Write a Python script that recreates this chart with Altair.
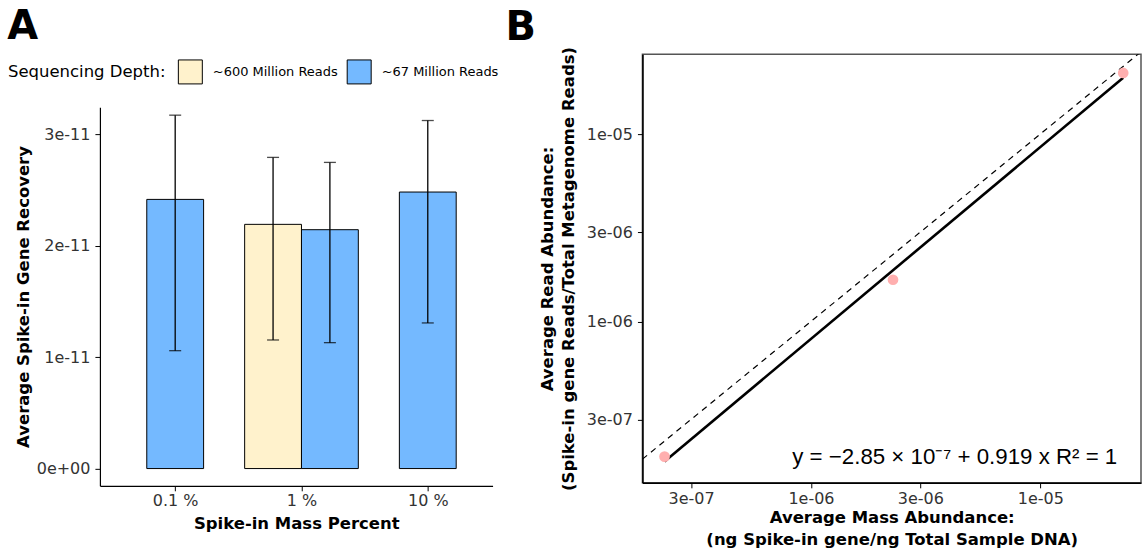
import json
import altair as alt
import numpy as np
import pandas as pd

# ---------------- Panel A data ----------------
pct_labels = ["0.1 %", "1 %", "10 %"]
bar_pct = ["0.1 %", "1 %", "1 %", "10 %"]
bar_depth = ["~67 Million Reads", "~600 Million Reads", "~67 Million Reads", "~67 Million Reads"]
bar_mean = [2.416e-11, 2.192e-11, 2.144e-11, 2.482e-11]
bar_hi = [3.172e-11, 2.793e-11, 2.748e-11, 3.124e-11]
bar_lo = [1.058e-11, 1.154e-11, 1.130e-11, 1.307e-11]
depth_order = ["~600 Million Reads", "~67 Million Reads"]
depth_colors = ["#FFF2CC", "#74B9FF"]

# ---------------- Panel B data ----------------
mass = [2.30e-7, 2.28e-6, 2.30e-5]
reads = [1.90e-7, 1.67e-6, 2.12e-5]
eq_label = "y = \u22122.85 \u00d7 10\u207b\u2077 + 0.919 x   R\u00b2 = 1"

FONT = "DejaVu Sans"

# ---- dodge (preserve single): total width 0.9 per category ----
dfa = pd.DataFrame(dict(pct=bar_pct, depth=bar_depth, mean=bar_mean, hi=bar_hi, lo=bar_lo))
dfa["idx"] = dfa["pct"].map({p: i + 1 for i, p in enumerate(pct_labels)})
dfa["dorder"] = dfa["depth"].map({d: i for i, d in enumerate(depth_order)})
dfa = dfa.sort_values(["idx", "dorder"]).reset_index(drop=True)
n_in = dfa.groupby("pct")["depth"].transform("count")
rank = dfa.groupby("pct").cumcount()
w = 0.9 / 2
dfa["center"] = dfa["idx"] + (rank - (n_in - 1) / 2) * w
dfa["x1"] = dfa["center"] - w / 2
dfa["x2"] = dfa["center"] + w / 2

label_expr_a = json.dumps(pct_labels) + "[datum.value - 1]"

# panel A view is as tall as panel B's; its y axis occupies the lower part only
A_H = 432
xscale_a = alt.Scale(domain=[0.404, 3.513], nice=False, zero=False)
yscale_a = alt.Scale(domain=[-0.155e-11, 3.244e-11], nice=False, zero=False, range=[A_H, 53])

axis_common = dict(
    grid=False, domainColor="black", domainWidth=1.2, tickColor="black", tickSize=5,
    labelColor="#333333", labelFont=FONT, labelFontSize=16, titleFont=FONT,
    titleFontSize=16.5, titleFontWeight="bold", titleColor="black",
)

base_a = alt.Chart(dfa)
bars = base_a.mark_bar(stroke="black", strokeWidth=1).encode(
    x=alt.X("x1:Q", scale=xscale_a,
            axis=alt.Axis(values=[1, 2, 3], labelExpr=label_expr_a,
                          title="Spike-in Mass Percent", titlePadding=7, **axis_common)),
    x2="x2:Q",
    y=alt.Y("mean:Q", scale=yscale_a,
            axis=alt.Axis(values=[0, 1e-11, 2e-11, 3e-11],
                          labelExpr="datum.value == 0 ? '0e+00' : format(datum.value, '.0e')",
                          title="Average Spike-in Gene Recovery", labelPadding=5, titlePadding=5,
                          **axis_common)),
    y2=alt.datum(0),
    color=alt.Color("depth:N", scale=alt.Scale(domain=depth_order, range=depth_colors),
                    legend=alt.Legend(title="Sequencing Depth:", orient="none", legendX=-92, legendY=5,
                                      direction="horizontal", titleOrient="left", symbolType="square",
                                      symbolSize=576, symbolStrokeColor="black", symbolStrokeWidth=1,
                                      symbolOpacity=1, labelFont=FONT, labelFontSize=13, labelColor="black",
                                      titleFont=FONT, titleFontSize=16.5, titleFontWeight="normal",
                                      titleColor="black", titlePadding=12, labelOffset=10,
                                      columnPadding=6)),
)
err = base_a.mark_rule(color="black", strokeWidth=1.3).encode(
    x=alt.X("center:Q", scale=xscale_a), y=alt.Y("lo:Q", scale=yscale_a), y2="hi:Q")
cap_hi = base_a.mark_tick(color="black", orient="horizontal", size=12, thickness=1.3).encode(
    x=alt.X("center:Q", scale=xscale_a), y=alt.Y("hi:Q", scale=yscale_a))
cap_lo = base_a.mark_tick(color="black", orient="horizontal", size=12, thickness=1.3).encode(
    x=alt.X("center:Q", scale=xscale_a), y=alt.Y("lo:Q", scale=yscale_a))

panel_a = alt.layer(bars, err, cap_hi, cap_lo).properties(
    width=393, height=A_H,
    title=alt.TitleParams("A", anchor="start", font=FONT, fontSize=40, fontWeight="bold",
                          color="black", offset=5, dx=-8, dy=-2),
    view=alt.ViewBackground(stroke=None),
)

# ---------------- Panel B ----------------
dfb = pd.DataFrame(dict(mass=mass, reads=reads))
slope, icpt = np.polyfit(np.log10(mass), np.log10(reads), 1)
xfit = np.array([min(mass), max(mass)])
dfit = pd.DataFrame(dict(mass=xfit, reads=10 ** (icpt + slope * np.log10(xfit))))

xdom_b = [1.842e-7, 2.75e-5]
ydom_b = [1.377e-7, 2.67e-5]
did = pd.DataFrame(dict(mass=xdom_b, reads=xdom_b))
deq = pd.DataFrame(dict(mass=[max(mass)], reads=[min(reads)], label=[eq_label]))

xscale_b = alt.Scale(type="log", domain=xdom_b, nice=False)
yscale_b = alt.Scale(type="log", domain=ydom_b, nice=False)
log_vals = [3e-7, 1e-6, 3e-6, 1e-5]
log_expr = "replace(format(datum.value, '.0e'), 'e-', 'e-0')"

axis_b = dict(axis_common)
axis_b["domainWidth"] = 1.6

xb = alt.X("mass:Q", scale=xscale_b,
           axis=alt.Axis(values=log_vals, labelExpr=log_expr,
                         title=["Average Mass Abundance:", "(ng Spike-in gene/ng Total Sample DNA)"],
                         titleLineHeight=22, labelPadding=3, titlePadding=3, **axis_b))
yb = alt.Y("reads:Q", scale=yscale_b,
           axis=alt.Axis(values=log_vals, labelExpr=log_expr,
                         title=["Average Read Abundance:", "(Spike-in gene Reads/Total Metagenome Reads)"],
                         titleLineHeight=21, labelPadding=5, titlePadding=10, **axis_b))

ident = alt.Chart(did).mark_line(color="black", strokeDash=[6, 5], strokeWidth=1.2, clip=True).encode(
    x=xb, y=yb)
fitline = alt.Chart(dfit).mark_line(color="black", strokeWidth=2.6).encode(x=xb, y=yb)
pts = alt.Chart(dfb).mark_circle(size=115, color="#FFAFAF", opacity=1).encode(x=xb, y=yb)
eq = alt.Chart(deq).mark_text(align="right", baseline="alphabetic", font="Liberation Sans",
                              fontSize=22.3, color="black", dx=-6, dy=7).encode(
    x=xb, y=yb, text="label:N")

panel_b = alt.layer(ident, fitline, pts, eq).properties(
    width=499, height=429,
    title=alt.TitleParams("B", anchor="start", font=FONT, fontSize=40, fontWeight="bold",
                          color="black", offset=-2, dx=-34),
    view=alt.ViewBackground(stroke="#555555", strokeWidth=1.5),
)

chart = alt.hconcat(panel_a, panel_b, spacing=12).properties(
    padding={"left": 7, "top": 7, "right": 0, "bottom": 0},
    background="white",
).configure_view(stroke=None)

chart.save("out.html", embed_options={"renderer": "svg", "actions": False})
